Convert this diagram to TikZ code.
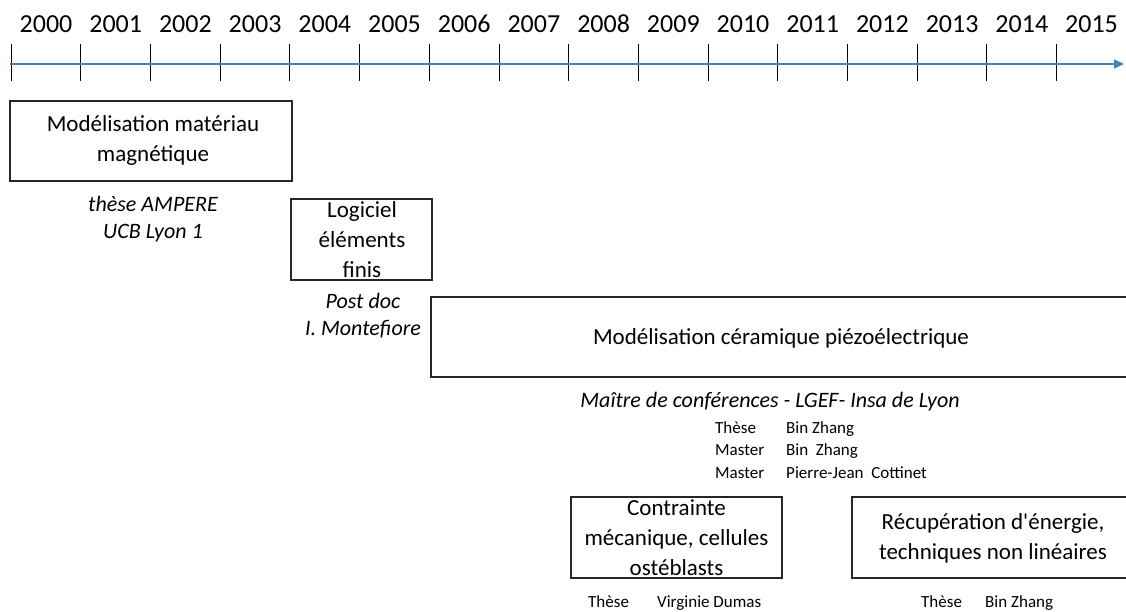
\documentclass[tikz,border=0pt]{standalone}
\usepackage{fontspec}
\setmainfont{Carlito}
\newfontfamily\droit{Carlito}[Ligatures=TeXOff]
\usetikzlibrary{arrows.meta}
\definecolor{axisblue}{RGB}{74,126,187}

\begin{document}
\begin{tikzpicture}[x=1pt,y=-1pt,
    boxe/.style={draw=black!85,line width=1.3pt,inner sep=0pt},
    boxtxt/.style={font=\fontsize{23}{30}\selectfont,align=center,inner sep=0pt},
    note/.style={font=\fontsize{22}{27}\selectfont\itshape,align=center,inner sep=0pt},
    petit/.style={font=\fontsize{17}{20}\selectfont,anchor=base west,inner sep=0pt},
    annee/.style={font=\fontsize{26}{30}\selectfont,inner sep=0pt}]
  \useasboundingbox (0,0) rectangle (1126,612);
  % axe du temps
  \coordinate (debut) at (10,64);
  \coordinate (fin) at (1124,64);
  \foreach \i in {0,...,15}{
    \pgfmathsetmacro{\xt}{round(10.7+69.7*\i)+0.5}
    \draw[line width=1.1pt] (\xt,44) -- (\xt,81);
    \pgfmathtruncatemacro{\an}{2000+\i}
    \node[annee] (an\i) at (46+69.7*\i,24) {\an};
  }
  \draw[axisblue,line width=1.5pt,-{Triangle[length=10pt,width=9pt]}] (debut) -- (fin);

  % these
  \node[boxe,minimum width=282pt,minimum height=80pt] (magn) at (151,141) {};
  \node[boxtxt] (magntxt) at (153,140) {Modélisation matériau\\magnétique};
  \node[note] (ampere) at (153,219.5) {thèse AMPERE\\UCB Lyon 1};

  % post doc
  \node[boxe,minimum width=141pt,minimum height=81pt] (logiciel) at (361.5,239.5) {};
  \node[boxtxt] (logicieltxt) at (362,240) {Logiciel\\éléments\\finis};
  \node[note] (postdoc) at (363,316) {Post doc\\I. Montefiore};

  % MCF
  \node[boxe,minimum width=703pt,minimum height=80pt] (piezo) at (782.5,337) {};
  \node[boxtxt] (piezotxt) at (781,338) {Modélisation céramique piézoélectrique};
  \node[note] (mcf) at (770,402) {Maître de conférences - LGEF- Insa de Lyon};
  \node[petit] (these1) at (715,433) {Thèse};
  \node[petit] (nom1) at (786,433) {Bin Zhang};
  \node[petit] (master1) at (715,455) {Master};
  \node[petit] (nom2) at (786,455) {Bin\ \ Zhang};
  \node[petit] (master2) at (715,478) {Master};
  \node[petit] (nom3) at (786,478) {Pierre-Jean\ \ Cottinet};

  % sous-themes
  \node[boxe,minimum width=211pt,minimum height=81pt] (cellules) at (676.5,537.5) {};
  \node[boxtxt] (cellulestxt) at (676.5,538) {Contrainte\\mécanique, cellules\\ostéblasts};
  \node[petit] (these2) at (588,607) {Thèse};
  \node[petit] (nom4) at (657,607) {Virginie\ Dumas};

  \node[boxe,minimum width=282pt,minimum height=81pt] (energie) at (993,537.5) {};
  \node[boxtxt] (energietxt) at (993,538) {Récupération d{\droit'}énergie,\\techniques non linéaires};
  \node[petit] (these3) at (921,607) {Thèse};
  \node[petit] (nom5) at (985,607) {Bin Zhang};
\end{tikzpicture}
\end{document}
